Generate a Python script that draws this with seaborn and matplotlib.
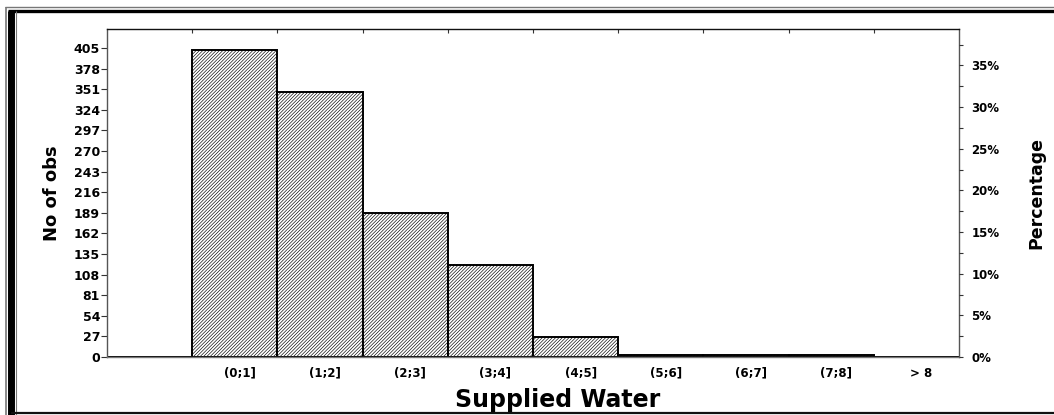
import matplotlib
matplotlib.use("Agg")
import matplotlib.pyplot as plt
import matplotlib.transforms as mtransforms
from matplotlib.lines import Line2D
from matplotlib.ticker import MultipleLocator, FuncFormatter
import seaborn as sns
import pandas as pd
import numpy as np

# Histogram of supplied water (count per interval)
bins = ["<= 0", "(0;1]", "(1;2]", "(2;3]", "(3;4]", "(4;5]", "(5;6]", "(6;7]", "(7;8]", "> 8"]
tick_labels = ["", "(0;1]", "(1;2]", "(2;3]", "(3;4]", "(4;5]", "(5;6]", "(6;7]", "(7;8]", "> 8"]
counts = [0, 403, 347, 189, 121, 26, 2, 2, 2, 0]
count_ticks = list(range(0, 406, 27))

df = pd.DataFrame({"bin": bins, "count": counts})
total = sum(counts)

sns.set_theme(style="white")
plt.rcParams["font.family"] = ["DejaVu Sans"]
plt.rcParams["text.color"] = "black"
plt.rcParams["axes.labelcolor"] = "black"
plt.rcParams["xtick.color"] = "black"
plt.rcParams["ytick.color"] = "black"
plt.rcParams["hatch.linewidth"] = 0.45
plt.rcParams["hatch.color"] = "black"

fig = plt.figure(figsize=(10.54, 4.15), dpi=100)
ax = fig.add_axes([0.1015, 0.1398, 0.8084, 0.7904])

sns.barplot(data=df, x="bin", y="count", order=bins, ax=ax, width=1.0,
            color="white", edgecolor="black", linewidth=1.4,
            hatch="/" * 10, saturation=1)

ymax = 430
ax.set_ylim(0, ymax)
ax.set_xlim(-0.5, len(bins) - 0.5)
ax.set_yticks(count_ticks)
ax.set_yticklabels([str(v) for v in count_ticks], fontsize=9, fontweight="bold")
ax.set_xticks(range(len(bins)))
ax.set_xticklabels(tick_labels, fontsize=8.5, fontweight="bold")
ax.tick_params(axis="y", direction="out", length=4, width=0.8, pad=1, color="#333333", left=True)
ax.tick_params(axis="x", length=0, pad=7)
shift = mtransforms.ScaledTranslation(5 / 100, 0, fig.dpi_scale_trans)
for t in ax.get_xticklabels():
    t.set_transform(t.get_transform() + shift)
ax.set_xlabel("Supplied Water", fontsize=17, fontweight="bold", labelpad=6)
ax.xaxis.label.set_x(0.529)
ax.set_ylabel("No of obs", fontsize=13, fontweight="bold", labelpad=9)

for side, col in [("left", "#555555"), ("bottom", "#777777"), ("top", "#111111"), ("right", "#555555")]:
    ax.spines[side].set_visible(True)
    ax.spines[side].set_color(col)
    ax.spines[side].set_linewidth(1.0)

# bin-edge ticks along the top border
top = ax.secondary_xaxis("top")
top.set_xticks(np.arange(0.5, len(bins) - 0.5, 1.0))
top.set_xticklabels([])
top.tick_params(direction="in", length=3, width=0.8, color="#333333")
top.spines["top"].set_visible(False)

# percentage scale on the right
ax2 = ax.twinx()
ax2.set_ylim(0, ymax / total * 100)
ax2.yaxis.set_major_locator(MultipleLocator(5))
ax2.yaxis.set_minor_locator(MultipleLocator(2.5))
ax2.yaxis.set_major_formatter(FuncFormatter(lambda v, p: f"{v:.0f}%"))
ax2.tick_params(axis="y", which="major", direction="out", length=3, width=0.8, pad=6,
                labelsize=8.5, color="#333333")
ax2.tick_params(axis="y", which="minor", direction="out", length=3, width=0.8, color="#333333")
for t in ax2.get_yticklabels():
    t.set_fontweight("bold")
ax2.set_ylabel("Percentage", fontsize=12.5, fontweight="bold", labelpad=20)
for s in ax2.spines.values():
    s.set_visible(False)
ax2.grid(False)
ax.grid(False)

# double frame around the figure
W, H = 1054, 415
def fline(x0, y0, x1, y1, lw, color):
    fig.add_artist(Line2D([x0 / W, x1 / W], [1 - y0 / H, 1 - y1 / H],
                          transform=fig.transFigure, lw=lw, color=color,
                          solid_capstyle="butt"))

fline(5, 7, W, 7, 1.0, "#777777")
fline(8, 11, W, 11, 2.4, "#000000")
fline(5.5, 7, 5.5, H, 1.2, "#777777")
fline(11, 11, 11, H, 5.0, "#000000")
fline(15.5, 11, 15.5, H, 0.8, "#777777")
fline(11, 413, W, 413, 1.6, "#111111")

fig.savefig("out.png", dpi=100)
